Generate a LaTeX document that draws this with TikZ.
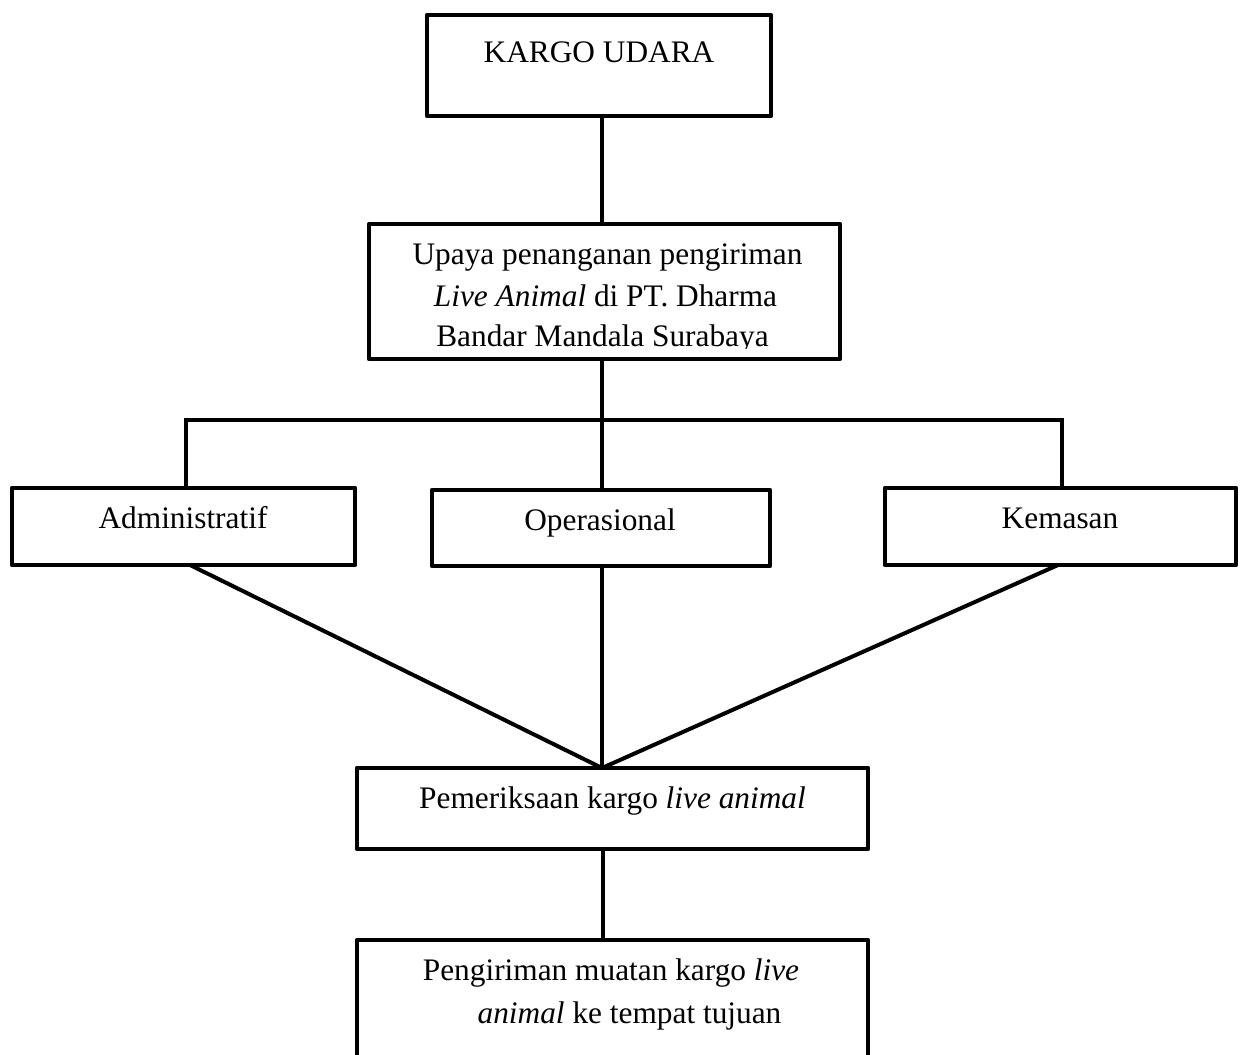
\documentclass[tikz,border=0pt]{standalone}
\usepackage{fontspec}
\setmainfont{Liberation Serif}
\begin{document}
\begin{tikzpicture}[x=0.75pt,y=-0.75pt,
  boxstyle/.style={draw=black,line width=3.4pt,line join=round,rectangle,inner sep=0pt,outer sep=0pt,fill=none},
  txt/.style={anchor=base,inner sep=0pt,font=\fontsize{23.5}{28}\selectfont},
  conn/.style={draw=black,line width=3pt,line cap=butt}]
\useasboundingbox (0,0) rectangle (1245,1055);
\clip (0,0) rectangle (1245,1055);
% boxes
\node[boxstyle,minimum width=258pt,minimum height=75.75pt] (kargo) at (599,65.5) {};
\node[boxstyle,minimum width=353.25pt,minimum height=101.25pt] (upaya) at (604.5,291.5) {};
\node[boxstyle,minimum width=257.25pt,minimum height=57.75pt] (admin) at (183.5,526.5) {};
\node[boxstyle,minimum width=253.5pt,minimum height=57pt] (oper) at (601,528) {};
\node[boxstyle,minimum width=263.25pt,minimum height=57.75pt] (kemas) at (1060.5,526.5) {};
\node[boxstyle,minimum width=383.25pt,minimum height=60.75pt] (periksa) at (612.5,808.5) {};
\node[boxstyle,minimum width=383.25pt,minimum height=105pt] (kirim) at (612.5,1010) {};
% texts
\node[txt] (tkargo) at (599,63) {KARGO UDARA};
\node[txt] (u1) at (607.5,265) {Upaya penanganan pengiriman};
\node[txt] (u2) at (605.5,307) {\textit{Live Animal} di PT. Dharma};
\begin{scope}
\clip (369,224) rectangle (840,348.5);
\node[txt] (u3) at (602.5,347) {Bandar Mandala Surabaya};
\end{scope}
\node[txt] (tadmin) at (183,528) {Administratif};
\node[txt] (toper) at (600,530) {Operasional};
\node[txt] (tkemas) at (1060,528) {Kemasan};
\node[txt] (tperiksa) at (612.5,808) {Pemeriksaan kargo \textit{live animal}};
\node[txt] (k1) at (611,980) {Pengiriman muatan kargo \textit{live}};
\node[txt] (k2) at (629.5,1023) {\textit{animal} ke tempat tujuan};
% helper coordinates
\coordinate (spine) at (602,0);
\coordinate (spine2) at (603,0);
\coordinate (busL) at (186,420);
\coordinate (busR) at (1062,420);
\coordinate (adminOut) at (190,0);
\coordinate (kemasOut) at (1058,0);
\coordinate (conv) at (periksa.north -| spine);
% connectors
\draw[conn] (kargo.south -| spine) -- (upaya.north -| spine);
\draw[conn] (upaya.south -| spine) -- (oper.north -| spine);
\draw[conn] (admin.north -| busL) -- (busL) -- (busR) -- (kemas.north -| busR);
\draw[conn] (admin.south -| adminOut) -- (conv);
\draw[conn] (oper.south -| spine) -- (conv);
\draw[conn] (kemas.south -| kemasOut) -- (conv);
\draw[conn] (periksa.south -| spine2) -- (kirim.north -| spine2);
\end{tikzpicture}
\end{document}
